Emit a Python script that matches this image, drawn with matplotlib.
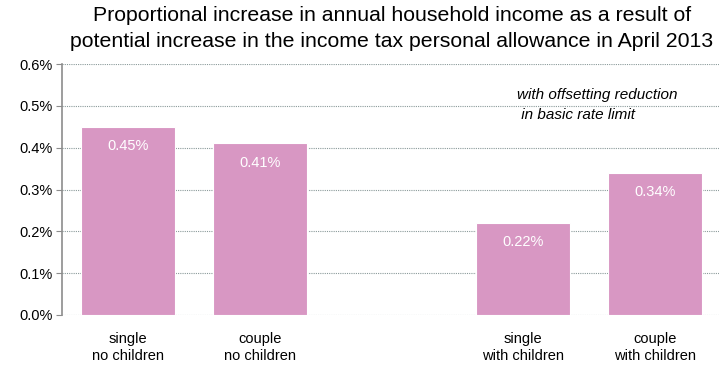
import matplotlib.pyplot as plt
from matplotlib.ticker import FuncFormatter

# chart data
categories = ['single\nno children', 'couple\nno children', '', 'single\nwith children', 'couple\nwith children']
values = [0.45, 0.41, None, 0.22, 0.34]
value_labels = ['0.45%', '0.41%', '', '0.22%', '0.34%']
yticks = [0.0, 0.1, 0.2, 0.3, 0.4, 0.5, 0.6]

plt.rcParams['font.family'] = ['Liberation Sans Narrow', 'Liberation Sans', 'DejaVu Sans']

fig = plt.figure(figsize=(7.19, 3.70), dpi=100)
ax = fig.add_axes([62/719, 55/370, 657/719, 251/370])

pink = '#d897c3'
xs = [i for i, v in enumerate(values) if v is not None]
hs = [v for v in values if v is not None]
bars = ax.bar(xs, hs, width=0.715, color=pink, edgecolor='white', linewidth=0.8, zorder=3)

for b, i in zip(bars, xs):
    ax.text(b.get_x() + b.get_width()/2, b.get_height() - 0.046, value_labels[i],
            ha='center', va='center', color='white', fontsize=10.5, zorder=4)

ax.set_xlim(-0.5, 4.485)
ax.set_ylim(0, 0.6)
ax.set_yticks(yticks)
ax.yaxis.set_major_formatter(FuncFormatter(lambda v, p: '%.1f%%' % v))
ax.set_xticks(range(len(categories)))
ax.set_xticklabels(categories, fontsize=10.5, linespacing=1.3)
ax.tick_params(axis='x', length=0, pad=12)
ax.tick_params(axis='y', direction='out', length=4, color='#8c8c8c', labelsize=10.5, pad=3)

ax.grid(axis='y', linestyle=(0, (1, 1)), color='#8a9a9a', linewidth=0.8, zorder=0)
ax.set_axisbelow(True)
for s in ['top', 'right', 'bottom']:
    ax.spines[s].set_visible(False)
ax.spines['left'].set_color('#8c8c8c')
ax.spines['left'].set_linewidth(1.2)

fig.text(0.545, 0.983, 'Proportional increase in annual household income as a result of\n'
         'potential increase in the income tax personal allowance in April 2013',
         ha='center', va='top', fontsize=15.3, linespacing=1.45)

ax.text(2.95, 0.502, 'with offsetting reduction\n in basic rate limit', ha='left', va='center',
        fontsize=11, style='italic', linespacing=1.55)

fig.savefig('out.png', dpi=100)
